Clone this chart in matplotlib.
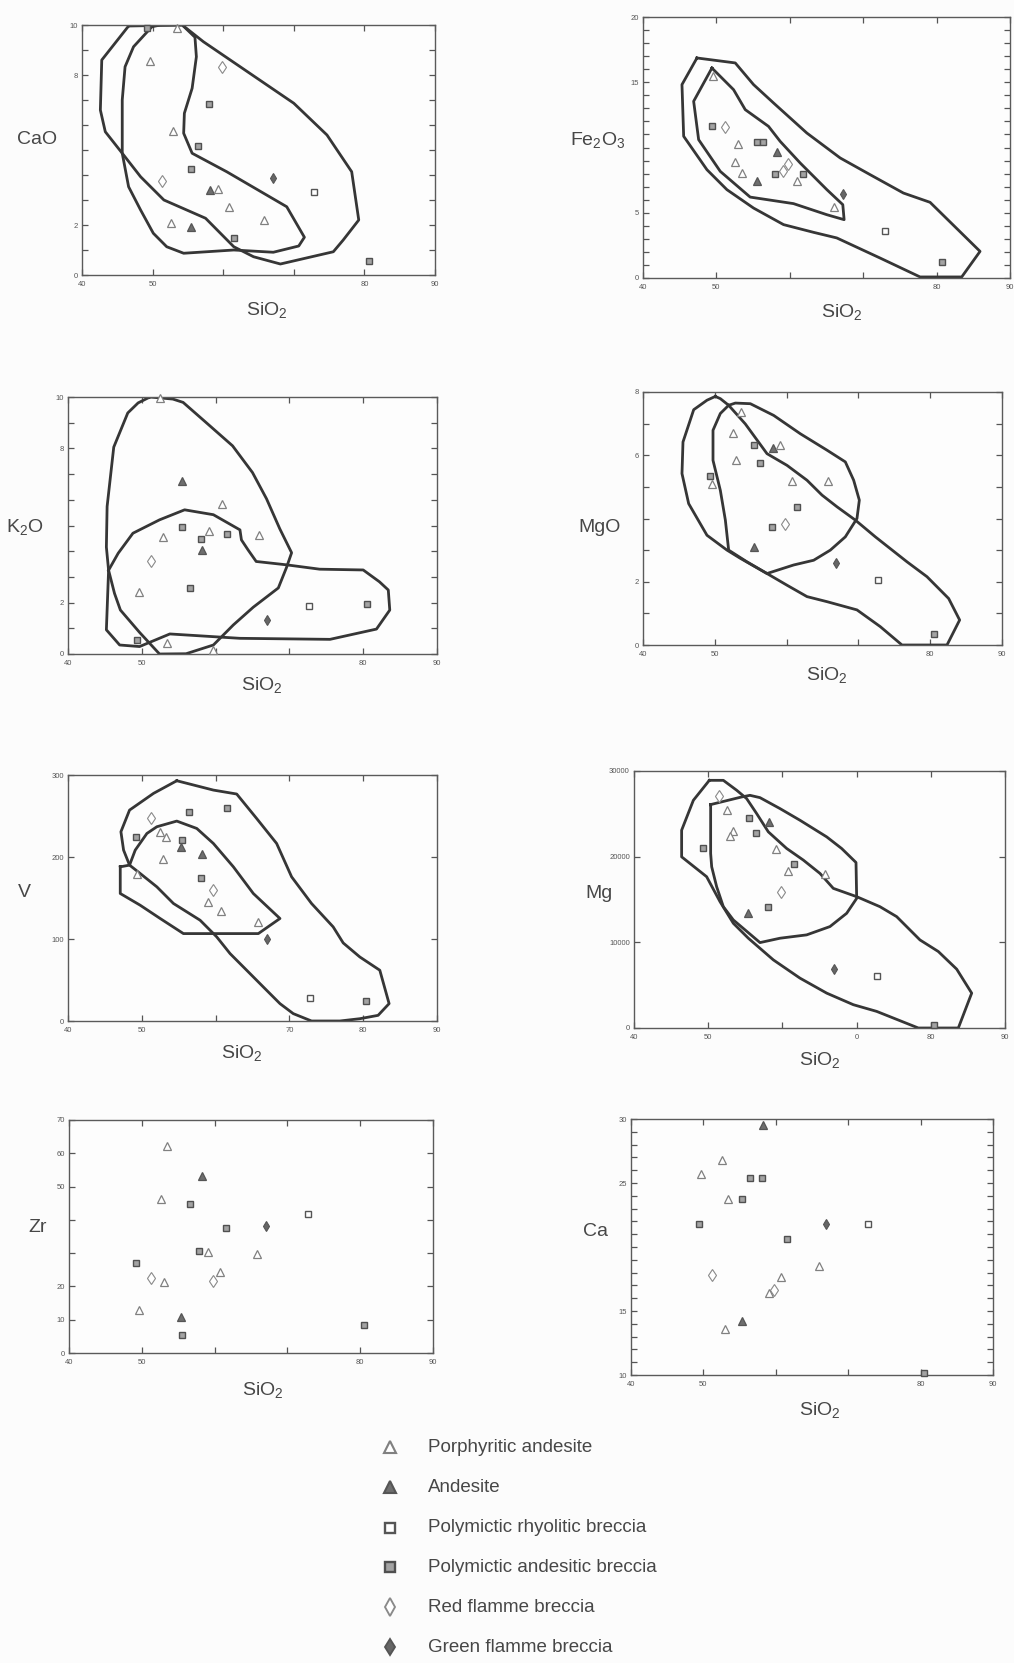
import matplotlib
matplotlib.use("Agg")
import matplotlib.pyplot as plt

plt.rcParams['font.family'] = ['Liberation Sans', 'DejaVu Sans']
plt.rcParams['mathtext.fontset'] = 'custom'
plt.rcParams['mathtext.rm'] = 'Liberation Sans'
plt.rcParams['mathtext.it'] = 'Liberation Sans:italic'

# ---------------- rock groups ----------------
rock_codes = ['PA', 'AN', 'RB', 'AB', 'RF', 'GF']
rock_names = ['Porphyritic andesite', 'Andesite', 'Polymictic rhyolitic breccia',
              'Polymictic andesitic breccia', 'Red flamme breccia', 'Green flamme breccia']

# ---------------- CaO ----------------
cao_sio2 = [49.2, 53.4, 49.6, 59.8, 58.0, 52.9, 56.5, 55.5, 51.3, 67.0, 58.2, 59.2, 72.8, 60.8, 65.8, 52.6, 55.5, 61.6, 80.6]
cao = [9.87, 9.87, 8.57, 8.33, 6.84, 5.77, 5.17, 4.24, 3.76, 3.87, 3.40, 3.44, 3.31, 2.71, 2.20, 2.07, 1.93, 1.49, 0.57]
cao_rock = ['AB', 'PA', 'PA', 'RF', 'AB', 'PA', 'AB', 'AB', 'RF', 'GF', 'AN', 'PA', 'RB', 'PA', 'PA', 'PA', 'AN', 'AB', 'AB']
cao_field_a = [(46.6, 9.96), (54.2, 10.0), (57.2, 9.33), (70.0, 6.87), (74.7, 5.6), (78.2, 4.13), (79.2, 2.2),
               (77.0, 1.4), (75.6, 0.93), (68.1, 0.44), (64.3, 0.73), (61.5, 1.13), (57.5, 2.27), (51.6, 3.0),
               (48.3, 3.93), (45.7, 4.87), (43.3, 5.73), (42.6, 6.6), (42.8, 8.6)]
cao_field_b = [(49.9, 9.93), (51.1, 10.0), (54.2, 10.0), (56.0, 9.51), (56.2, 8.73), (55.6, 7.47), (54.5, 6.47),
               (54.4, 5.67), (55.6, 4.87), (60.5, 4.13), (69.0, 2.73), (71.5, 1.51), (70.7, 1.16), (67.1, 0.91),
               (61.5, 1.0), (54.4, 0.87), (52.0, 1.13), (50.1, 1.67), (48.3, 2.6), (46.6, 3.53), (45.7, 4.87),
               (45.7, 7.0), (46.1, 8.33), (47.3, 9.13)]

# ---------------- Fe2O3 ----------------
fe_sio2 = [49.6, 49.4, 51.2, 52.9, 55.5, 56.4, 58.2, 52.6, 59.8, 53.5, 58.0, 59.1, 55.5, 61.8, 61.0, 67.2, 66.0, 73.0, 80.8]
fe = [15.5, 11.67, 11.6, 10.3, 10.4, 10.4, 9.63, 8.86, 8.76, 8.05, 7.97, 8.17, 7.46, 7.97, 7.41, 6.46, 5.44, 3.58, 1.23]
fe_rock = ['PA', 'AB', 'RF', 'PA', 'AB', 'AB', 'AN', 'PA', 'RF', 'PA', 'AB', 'RF', 'AN', 'AB', 'PA', 'GF', 'PA', 'RB', 'AB']
fe_field_a = [(47.35, 16.86), (52.57, 16.48), (55.06, 14.82), (57.79, 13.41), (62.32, 11.11), (66.86, 9.2),
              (70.94, 7.92), (75.48, 6.51), (79.11, 5.8), (85.92, 2.04), (83.42, 0.08), (77.75, 0.08),
              (72.3, 1.53), (66.4, 3.07), (63.23, 3.5), (59.15, 4.09), (55.06, 5.36), (51.43, 6.77),
              (48.71, 8.3), (45.54, 10.86), (45.31, 14.82)]
fe_field_b = [(49.39, 16.09), (52.34, 14.43), (53.93, 12.9), (57.1, 11.62), (58.69, 10.47), (61.42, 8.81),
              (65.05, 6.77), (67.22, 5.62), (67.4, 4.47), (65.05, 4.85), (60.5, 5.7), (54.6, 6.2),
              (50.53, 8.17), (47.58, 10.6), (46.9, 13.54)]

# ---------------- K2O ----------------
k_sio2 = [52.4, 55.4, 60.8, 55.4, 59.1, 52.9, 58.0, 61.5, 65.9, 58.1, 51.3, 56.5, 49.6, 72.7, 80.5, 66.9, 49.3, 53.4, 59.6]
k2o = [9.95, 6.75, 5.84, 4.96, 4.77, 4.55, 4.49, 4.68, 4.64, 4.05, 3.60, 2.56, 2.43, 1.87, 1.95, 1.32, 0.55, 0.42, 0.16]
k_rock = ['PA', 'AN', 'PA', 'AB', 'PA', 'PA', 'AB', 'AB', 'PA', 'AN', 'RF', 'AB', 'PA', 'RB', 'AB', 'GF', 'AB', 'PA', 'PA']
k_field_a = [(51.1, 10.0), (54.2, 9.92), (55.6, 9.79), (58.7, 9.01), (62.3, 8.1), (65.0, 7.06), (66.9, 6.04),
             (68.7, 4.87), (70.3, 3.94), (69.6, 3.36), (68.5, 2.57), (65.1, 1.82), (62.4, 1.13), (59.7, 0.35),
             (56.0, 0.01), (52.4, 0.0), (49.7, 0.84), (47.1, 1.71), (46.3, 2.36), (45.5, 3.26), (45.2, 4.16),
             (45.3, 5.74), (46.2, 8.05), (48.1, 9.38), (49.5, 9.77)]
k_field_b = [(45.5, 3.26), (46.8, 3.92), (48.8, 4.70), (52.4, 5.22), (55.8, 5.61), (59.7, 5.42), (63.3, 4.83),
             (63.5, 4.44), (64.4, 4.05), (65.5, 3.60), (69.6, 3.47), (74.1, 3.30), (80.0, 3.27), (82.2, 2.81),
             (83.4, 2.49), (83.6, 1.71), (81.8, 0.97), (75.5, 0.57), (63.3, 0.61), (53.8, 0.78), (49.7, 0.29),
             (47.0, 0.35), (45.2, 0.94)]

# ---------------- MgO ----------------
mgo_sio2 = [53.6, 52.5, 55.4, 58.1, 59.1, 53.0, 56.3, 49.3, 49.6, 60.8, 65.8, 61.5, 57.9, 59.8, 55.4, 66.9, 72.7, 80.5]
mgo = [7.37, 6.71, 6.32, 6.24, 6.32, 5.86, 5.74, 5.35, 5.08, 5.19, 5.19, 4.37, 3.74, 3.84, 3.11, 2.60, 2.05, 0.35]
mgo_rock = ['PA', 'PA', 'AB', 'AN', 'PA', 'PA', 'AB', 'AB', 'PA', 'PA', 'PA', 'AB', 'AB', 'RF', 'AN', 'GF', 'RB', 'AB']
mgo_field_a = [(50.07, 7.86), (50.77, 7.79), (51.93, 7.58), (54.25, 6.99), (57.27, 6.05), (60.06, 5.68),
               (62.84, 5.21), (64.93, 4.74), (67.02, 4.37), (69.57, 3.95), (72.36, 3.42), (76.77, 2.63),
               (79.55, 2.16), (82.57, 1.47), (84.1, 0.79), (82.34, 0.0), (76.07, 0.0), (73.05, 0.58),
               (69.8, 1.11), (65.63, 1.37), (62.84, 1.53), (60.06, 1.89), (57.27, 2.26), (53.56, 2.74),
               (51.7, 3.0), (48.91, 3.47), (46.36, 4.47), (45.43, 5.42), (45.57, 6.42), (47.06, 7.44),
               (48.91, 7.74)]
mgo_field_b = [(51.93, 7.58), (52.86, 7.65), (54.95, 7.63), (58.2, 7.26), (61.91, 6.68), (65.63, 6.16),
               (68.18, 5.79), (69.34, 5.21), (70.13, 4.58), (69.8, 4.0), (68.18, 3.42), (66.09, 3.0),
               (63.77, 2.68), (60.98, 2.53), (57.27, 2.26), (54.48, 2.63), (51.93, 3.0), (51.47, 3.95),
               (50.77, 4.89), (49.75, 5.84), (49.75, 6.79), (50.77, 7.32)]

# ---------------- V ----------------
v_sio2 = [51.2, 61.5, 56.4, 52.4, 53.3, 49.2, 55.4, 55.3, 58.1, 52.9, 49.4, 58.0, 59.7, 59.0, 60.7, 65.8, 66.9, 72.8, 80.4]
v = [248, 260, 255, 231, 224, 225, 221, 212, 204, 198, 179, 175, 160, 145, 134, 121, 100, 28, 24]
v_rock = ['RF', 'AB', 'AB', 'PA', 'PA', 'AB', 'AB', 'AN', 'AN', 'PA', 'PA', 'AB', 'RF', 'PA', 'PA', 'PA', 'GF', 'RB', 'AB']
v_field_a = [(54.74, 293), (59.70, 281.6), (62.86, 276.8), (65.56, 247), (68.27, 216.5), (70.30, 175.8),
             (73.0, 143.3), (75.93, 114.8), (77.29, 95.2), (79.54, 78.1), (82.25, 61.9), (83.51, 21.2),
             (82.02, 6.9), (79.54, 2.8), (76.84, 0), (73.0, 0), (70.52, 9), (68.72, 21.2), (66.92, 37.4),
             (64.21, 61.9), (61.96, 82.2), (60.15, 102.6), (57.9, 122.9), (54.29, 143.3), (52.04, 163.6),
             (49.78, 179.9), (48.34, 190.1), (47.53, 208.4), (47.17, 230.8), (48.34, 257.2), (51.59, 277.6)]
v_field_b = [(47.08, 188), (48.34, 190.1), (49.11, 208.4), (50.69, 228.7), (52.04, 236.9), (54.74, 243.8),
             (57.45, 234.8), (59.7, 216.5), (62.41, 188), (65.11, 155.5), (68.72, 125), (65.79, 106.6),
             (55.64, 106.6), (52.49, 125), (49.78, 141.2), (47.08, 155.5)]

# ---------------- Mg ----------------
mg_sio2 = [51.4, 52.6, 55.5, 58.2, 53.4, 53.0, 56.4, 49.3, 59.1, 61.6, 60.8, 65.8, 59.8, 58.1, 55.4, 67.0, 72.7, 80.4]
mg = [27050, 25420, 24560, 24060, 23010, 22430, 22780, 21070, 20950, 19130, 18350, 17970, 15830, 14090, 13390, 6870, 6090, 390]
mg_rock = ['RF', 'PA', 'AB', 'AN', 'PA', 'PA', 'AB', 'AB', 'PA', 'AB', 'PA', 'PA', 'RF', 'AB', 'AN', 'GF', 'RB', 'AB']
mg_field_a = [(50.15, 28910), (52.04, 28910), (53.84, 27750), (55.18, 26780), (56.53, 25030), (58.10, 22900),
              (60.57, 20960), (62.82, 19600), (65.07, 18040), (66.86, 16300), (70.01, 15330), (73.15, 14160),
              (75.4, 13000), (78.54, 10280), (81.01, 8930), (83.49, 6870), (85.51, 4070), (83.71, 0),
              (78.32, 0), (72.7, 1940), (69.56, 2720), (65.97, 4070), (62.37, 5820), (58.78, 7950),
              (55.41, 10480), (53.39, 12220), (51.59, 14750), (49.79, 17660), (46.42, 19980), (46.42, 23090),
              (48.0, 26580)]
mg_field_b = [(50.33, 26080), (54.51, 26970), (55.63, 27160), (56.98, 26890), (59.68, 25610), (62.37, 24250),
              (65.97, 22310), (67.99, 20950), (69.92, 19320), (70.01, 15130), (68.66, 13390), (66.41, 11840),
              (63.27, 10870), (59.68, 10480), (56.98, 9970), (53.39, 12610), (52.04, 14160), (51.14, 16490),
              (50.47, 18820), (50.33, 20370)]

# ---------------- Zr ----------------
zr_sio2 = [53.5, 58.3, 52.7, 56.6, 72.8, 61.6, 67.0, 57.9, 59.1, 65.8, 49.2, 51.3, 53.0, 59.8, 60.8, 49.6, 55.4, 55.5, 80.5]
zr = [62.2, 53.2, 46.4, 44.9, 41.7, 37.7, 38.2, 30.7, 30.2, 29.7, 26.9, 22.6, 21.4, 21.7, 24.4, 12.8, 10.8, 5.5, 8.5]
zr_rock = ['PA', 'AN', 'PA', 'AB', 'RB', 'AB', 'GF', 'AB', 'PA', 'PA', 'AB', 'RF', 'PA', 'RF', 'PA', 'PA', 'AN', 'AB', 'AB']

# ---------------- Ca ----------------
ca_sio2 = [58.2, 52.6, 49.65, 56.4, 58.1, 53.4, 55.4, 49.4, 67.0, 72.8, 61.5, 66.0, 51.2, 60.7, 59.8, 59.1, 55.4, 53.0, 80.5]
ca = [29.56, 26.82, 25.72, 25.38, 25.38, 23.77, 23.77, 21.81, 21.81, 21.81, 20.61, 18.55, 17.82, 17.64, 16.65, 16.39, 14.25, 13.57, 10.18]
ca_rock = ['AN', 'PA', 'PA', 'AB', 'AB', 'PA', 'AB', 'AB', 'GF', 'RB', 'AB', 'PA', 'RF', 'PA', 'RF', 'PA', 'AN', 'PA', 'AB']

# ---------------- styling ----------------
INK = '#474747'
STYLE = {
    'PA': dict(marker='^', mfc='white', mec='#808080', ms=5.5, mew=0.9),
    'AN': dict(marker='^', mfc='#6e6e6e', mec='#555555', ms=5.5, mew=0.9),
    'RB': dict(marker='s', mfc='white', mec='#555555', ms=5.0, mew=1.0),
    'AB': dict(marker='s', mfc='#a3a3a3', mec='#505050', ms=5.0, mew=1.0),
    'RF': dict(marker='d', mfc='white', mec='#8a8a8a', ms=6.0, mew=0.8),
    'GF': dict(marker='d', mfc='#666666', mec='#555555', ms=5.5, mew=0.8),
}

W, H = 1014, 1663
fig = plt.figure(figsize=(W / 100, H / 100), dpi=100, facecolor='#fcfcfc')


def px_axes(x0, y0, x1, y1):
    return fig.add_axes([x0 / W, 1 - y1 / H, (x1 - x0) / W, (y1 - y0) / H])


def px_text(x, y, s, size=14, **kw):
    fig.text(x / W, 1 - y / H, s, ha='center', va='center', fontsize=size, color=INK, **kw)


def panel(box, xs, ys, rocks, ylim, yticks, ylabels, xlabels, fields=()):
    ax = px_axes(*box)
    ax.set_facecolor('#fdfdfd')
    for poly in fields:
        px = [p[0] for p in poly] + [poly[0][0]]
        py = [p[1] for p in poly] + [poly[0][1]]
        ax.plot(px, py, color='#363636', lw=2.0, solid_joinstyle='round', zorder=2)
    for xv, yv, r in zip(xs, ys, rocks):
        ax.plot([xv], [yv], linestyle='none', zorder=3, clip_on=False, **STYLE[r])
    ax.set_xlim(40, 90)
    ax.set_ylim(*ylim)
    xt = [40, 50, 60, 70, 80, 90]
    ax.set_xticks(xt)
    ax.set_xticklabels([xlabels.get(t, '') for t in xt])
    ax.set_yticks(yticks)
    ax.set_yticklabels([ylabels.get(t, '') for t in yticks])
    ax.tick_params(direction='in', top=True, right=True, length=4, width=0.9,
                   colors='#555555', labelsize=5.5, labelcolor='#555555')
    ax.tick_params(axis='x', pad=4)
    ax.tick_params(axis='y', pad=3)
    for s in ax.spines.values():
        s.set_color('#5a5a5a')
        s.set_linewidth(1.0)
    return ax


std_x = {40: '40', 50: '50', 80: '80', 90: '90'}

panel((82, 25, 435, 275), cao_sio2, cao, cao_rock, (0, 10), list(range(0, 11)),
      {0: '0', 2: '2', 8: '8', 10: '10'}, std_x, fields=(cao_field_a, cao_field_b))
px_text(37, 140, 'CaO')
px_text(267, 310, 'SiO$_2$')

panel((643, 17, 1010, 278), fe_sio2, fe, fe_rock, (0, 20), list(range(0, 21)),
      {0: '0', 5: '5', 15: '15', 20: '20'}, std_x, fields=(fe_field_a, fe_field_b))
px_text(598, 140, 'Fe$_2$O$_3$')
px_text(842, 312, 'SiO$_2$')

panel((68, 397, 437, 654), k_sio2, k2o, k_rock, (0, 10), list(range(0, 11)),
      {0: '0', 2: '2', 8: '8', 10: '10'}, std_x, fields=(k_field_a, k_field_b))
px_text(25, 527, 'K$_2$O')
px_text(262, 685, 'SiO$_2$')

panel((643, 392, 1002, 645), mgo_sio2, mgo, mgo_rock, (0, 8), list(range(0, 9)),
      {0: '0', 2: '2', 6: '6', 8: '8'}, std_x, fields=(mgo_field_a, mgo_field_b))
px_text(600, 527, 'MgO')
px_text(827, 675, 'SiO$_2$')

panel((68, 775, 437, 1021), v_sio2, v, v_rock, (0, 300), [0, 100, 200, 300],
      {0: '0', 100: '100', 200: '200', 300: '300'},
      {40: '40', 50: '50', 70: '70', 80: '80', 90: '90'}, fields=(v_field_a, v_field_b))
px_text(24, 892, 'V')
px_text(242, 1053, 'SiO$_2$')

panel((634, 771, 1005, 1028), mg_sio2, mg, mg_rock, (0, 30000), [0, 10000, 20000, 30000],
      {0: '0', 10000: '10000', 20000: '20000', 30000: '30000'},
      {40: '40', 50: '50', 70: '0', 80: '80', 90: '90'}, fields=(mg_field_a, mg_field_b))
px_text(599, 893, 'Mg')
px_text(820, 1060, 'SiO$_2$')

panel((69, 1120, 433, 1353), zr_sio2, zr, zr_rock, (0, 70), list(range(0, 71, 10)),
      {0: '0', 10: '10', 20: '20', 50: '50', 60: '60', 70: '70'}, std_x)
px_text(38, 1227, 'Zr')
px_text(263, 1390, 'SiO$_2$')

panel((631, 1119, 993, 1375), ca_sio2, ca, ca_rock, (10, 30), list(range(10, 31)),
      {10: '10', 15: '15', 25: '25', 30: '30'}, std_x)
px_text(596, 1232, 'Ca')
px_text(820, 1410, 'SiO$_2$')

# ---------------- legend ----------------
leg = fig.add_axes([0, 0, 1, 1], facecolor='none')
leg.set_xlim(0, W)
leg.set_ylim(H, 0)
leg.axis('off')
row_y = [1447, 1487, 1528, 1567, 1607, 1647]
for code, name, yy in zip(rock_codes, rock_names, row_y):
    st = dict(STYLE[code])
    st['ms'] = st['ms'] * 1.5
    st['mew'] = st['mew'] * 1.7
    leg.plot([390], [yy], linestyle='none', **st)
    leg.text(428, yy, name, ha='left', va='center', fontsize=13.5, color=INK)

fig.savefig('out.png', dpi=100, facecolor=fig.get_facecolor())
